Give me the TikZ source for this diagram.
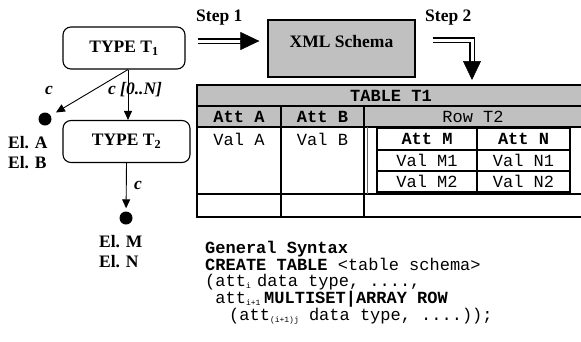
\documentclass[tikz,border=0pt]{standalone}
\usepackage{fontspec}
\setmainfont{Liberation Serif}
\setmonofont{Liberation Mono}
\usetikzlibrary{arrows.meta,positioning}
\definecolor{boxGray}{HTML}{C0C0C0}
\newcommand{\tsub}[1]{\raisebox{-2.5pt}{\fontsize{8}{8}\selectfont #1}}

\begin{document}
\begin{tikzpicture}[x=1pt,y=-1pt,
  serifb/.style={font=\fontsize{17.5}{20}\selectfont\bfseries},
  card/.style={font=\fontsize{17.5}{20}\selectfont\bfseries\itshape, inner sep=1pt},
  typebox/.style={draw, rounded corners=8pt, line width=1.1pt, serifb, minimum height=42pt, inner sep=0pt},
  elem/.style={circle, fill, minimum size=13pt, inner sep=0pt},
  rel/.style={-{Triangle[length=9pt,width=8pt]}, line width=0.9pt},
  dblshaft/.style={double, double distance=3pt, line width=1.3pt},
  bighead/.style={-{Triangle[length=19pt,width=18pt]}, line width=0.5pt},
  ttx/.style={font=\fontsize{17}{17}\selectfont\ttfamily},
  ttb/.style={font=\fontsize{17}{17}\selectfont\ttfamily\bfseries},
  grid/.style={line width=1.2pt},
]
\useasboundingbox (0,0) rectangle (581,341);
% ---- type hierarchy ----
\node[typebox, minimum width=122pt] (t1) at (124,48) {TYPE T\textsubscript{1}};
\node[typebox, minimum width=127pt] (t2) at (126.5,141.5) {TYPE T\textsubscript{2}};
\node[elem] (dA) at (45,119) {};
\node[elem] (dM) at (126,218) {};
\coordinate (fork) at ([xshift=4pt]t1.south);
\draw[rel, shorten >=6pt] (fork) -- (dA);
\draw[rel] (fork) -- (fork |- t2.north);
\draw[rel, shorten >=3pt] (t2.south) -- (dM);
\node[card] (cA) at (49,90) {c};
\node[card] (cN) at (135,90) {c [0..N]};
\node[card] (cM) at (138,185) {c};
\node[serifb, align=left, anchor=west, inner sep=0pt] (elAB) at (8,153) {El. A\\El. B};
\node[serifb, align=left, anchor=west, inner sep=0pt] (elMN) at (99,251.5) {El. M\\El. N};
% ---- steps ----
\node[draw, fill=boxGray, line width=1.3pt, serifb, minimum width=147pt, inner ysep=0pt,
  text height=27.5pt, text depth=29.5pt] (xml) at (341.5,48.5) {XML Schema};
\node[serifb, anchor=west, inner sep=0pt] (st1) at (196,18) {Step 1};
\node[serifb, anchor=west, inner sep=0pt] (st2) at (425,18) {Step 2};
\coordinate (s1a) at ([xshift=12pt,yshift=7pt]t1.east);
\coordinate (s1b) at ([xshift=-8pt]xml.west |- s1a);
\draw[dblshaft] (s1a) -- ([xshift=-18pt]s1b);
\draw[bighead] ([xshift=-19pt]s1b) -- (s1b);
\coordinate (s2a) at ([xshift=17pt,yshift=8.5pt]xml.east);
\coordinate (s2b) at (472,80);
\draw[dblshaft] (s2a) -| ([yshift=17pt]s2b);
\draw[bighead] ([yshift=19pt]s2b) -- (s2b);
% ---- table T1 ----
\begin{scope}
  \clip (0,0) rectangle (581,341);
  \fill[boxGray] (197,85) rectangle (590,127);
  \draw[grid] (197,85) rectangle (590,217);
  \foreach \y in {106,127,194}{\draw[grid] (197,\y) -- (590,\y);}
  \foreach \x in {281,364}{\draw[grid] (\x,106) -- (\x,217);}
\end{scope}
\draw[line width=0.5pt, black!60] (367,127) -- (367,194);
% ---- nested row T2 ----
\draw[grid] (377,128) rectangle (570,192);
\foreach \y in {150,171}{\draw[grid] (377,\y) -- (570,\y);}
\draw[grid] (477,128) -- (477,192);
\draw[line width=2.4pt] (377,128) -- (377,192) -- (570,192);
% ---- cell texts ----
\node[ttb] (ttl) at (391,95.5) {TABLE T1};
\node[ttb] (attA) at (239,116.5) {Att A};
\node[ttb] (attB) at (322.5,116.5) {Att B};
\node[ttx] (rowT) at (473,116.5) {Row T2};
\node[ttx] (valA) at (239,139) {Val A};
\node[ttx] (valB) at (322.5,139) {Val B};
\node[ttb] (attM) at (427,139) {Att M};
\node[ttb] (attN) at (523.5,139) {Att N};
\node[ttx] (valM1) at (427,160.5) {Val M1};
\node[ttx] (valN1) at (523.5,160.5) {Val N1};
\node[ttx] (valM2) at (427,181.5) {Val M2};
\node[ttx] (valN2) at (523.5,181.5) {Val N2};
% ---- general syntax ----
\node[ttb, anchor=base west, inner sep=0pt] (syn1) at (205,253) {General Syntax};
\node[ttx, anchor=base west, inner sep=0pt] (syn2) at (205,270) {\textbf{CREATE TABLE} <table schema>};
\node[ttx, anchor=base west, inner sep=0pt] (syn3) at (205,286) {\makebox[52pt][l]{(att\tsub{i}}data type, ....,};
\node[ttx, anchor=base west, inner sep=0pt] (syn4) at (205,303) {\makebox[59pt][l]{\hspace{10.2pt}att\tsub{i+1}}\textbf{MULTISET|ARRAY ROW}};
\node[ttx, anchor=base west, inner sep=0pt] (syn5) at (229,320) {(att\tsub{(i+1)j} data type, ....));};
\end{tikzpicture}
\end{document}
